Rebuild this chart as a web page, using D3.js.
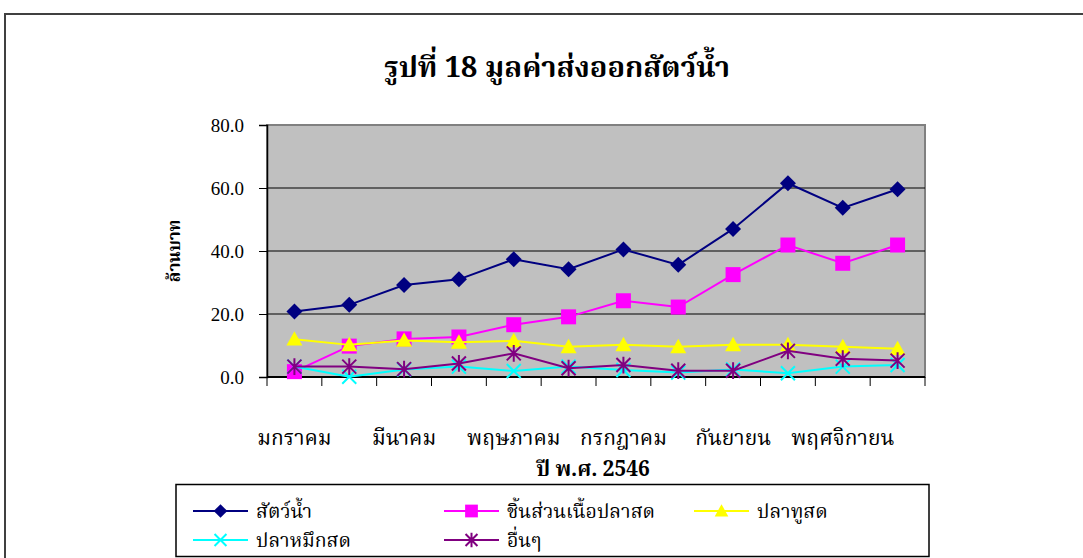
<!DOCTYPE html>
<html>
<head>
<meta charset="utf-8">
<script src="https://cdn.jsdelivr.net/npm/d3@7"></script>
<style>
  html, body { margin: 0; padding: 0; background: #fff; }
  svg { display: block; font-family: "Noto Serif Thai", "Liberation Serif", "Times New Roman", serif; }
</style>
</head>
<body>
<div id="chart"></div>
<script>
const months = ["มกราคม", "กุมภาพันธ์", "มีนาคม", "เมษายน", "พฤษภาคม", "มิถุนายน",
  "กรกฎาคม", "สิงหาคม", "กันยายน", "ตุลาคม", "พฤศจิกายน", "ธันวาคม"];
const yTicks = [0, 20, 40, 60, 80];

const seriesNames = ["สัตว์น้ำ", "ชิ้นส่วนเนื้อปลาสด", "ปลาทูสด", "ปลาหมึกสด", "อื่นๆ"];
const aquatic = [20.8, 22.9, 29.2, 31.0, 37.4, 34.2, 40.5, 35.6, 47.0, 61.5, 53.7, 59.6];
const fishParts = [1.7, 9.8, 12.1, 12.7, 16.6, 19.1, 24.2, 22.2, 32.5, 41.9, 36.1, 41.9];
const mackerel = [12.0, 10.2, 11.6, 11.0, 11.5, 9.6, 10.2, 9.6, 10.2, 10.2, 9.6, 9.0];
const squid = [3.3, 0.1, 2.4, 3.3, 1.9, 3.3, 2.2, 1.4, 2.4, 1.2, 3.3, 3.8];
const others = [3.3, 3.3, 2.5, 4.3, 7.5, 2.8, 3.8, 2.0, 2.0, 8.3, 5.8, 5.2];

const W = 1083, H = 558;
const plot = { left: 267, top: 125, right: 925, bottom: 377 };

const svg = d3.select("#chart").append("svg").attr("width", W).attr("height", H);

// outer frame
svg.append("path")
  .attr("d", `M5,${H + 2}V14H${W + 2}`)
  .attr("fill", "none").attr("stroke", "#404040").attr("stroke-width", 2);

svg.append("text")
  .attr("x", 557).attr("y", 77)
  .attr("text-anchor", "middle")
  .attr("font-size", 29).attr("font-weight", "bold")
  .text("รูปที่ 18 มูลค่าส่งออกสัตว์น้ำ");

const x = d3.scaleBand().domain(months).range([plot.left, plot.right]);
const y = d3.scaleLinear().domain([0, 80]).range([plot.bottom, plot.top]);
const cx = m => x(m) + x.bandwidth() / 2;

svg.append("rect")
  .attr("x", plot.left).attr("y", plot.top)
  .attr("width", plot.right - plot.left).attr("height", plot.bottom - plot.top)
  .attr("fill", "#c0c0c0").attr("stroke", "#808080").attr("stroke-width", 2);

svg.append("g").selectAll("line")
  .data(yTicks.filter(t => t > 0 && t < 80))
  .enter().append("line")
  .attr("x1", plot.left).attr("x2", plot.right)
  .attr("y1", d => y(d)).attr("y2", d => y(d))
  .attr("stroke", "#000").attr("stroke-width", 1);

const yAxis = svg.append("g")
  .attr("transform", `translate(${plot.left},0)`)
  .call(d3.axisLeft(y).tickValues(yTicks).tickFormat(d3.format(".1f")).tickSize(8).tickPadding(15));
yAxis.select(".domain").attr("stroke", "#000").attr("stroke-width", 1.5);
yAxis.selectAll("text").attr("font-size", 19).attr("fill", "#000")
  .attr("font-family", "Liberation Serif, serif");

// x axis: ticks at category boundaries, labels on every other month
const bounds = months.map(m => x(m)).concat([plot.right]);
const xAxis = svg.append("g");
xAxis.append("line")
  .attr("x1", plot.left).attr("x2", plot.right)
  .attr("y1", plot.bottom).attr("y2", plot.bottom)
  .attr("stroke", "#000").attr("stroke-width", 2);
xAxis.selectAll("line.tick")
  .data(bounds)
  .enter().append("line").attr("class", "tick")
  .attr("x1", d => d).attr("x2", d => d)
  .attr("y1", plot.bottom).attr("y2", plot.bottom + 9)
  .attr("stroke", "#000").attr("stroke-width", 1);
xAxis.selectAll("text")
  .data(months.filter((m, i) => i % 2 === 0))
  .enter().append("text")
  .attr("x", d => cx(d))
  .attr("y", 445)
  .attr("text-anchor", "middle")
  .attr("font-size", 21)
  .text(d => d);

svg.append("text")
  .attr("x", 593).attr("y", 476)
  .attr("text-anchor", "middle")
  .attr("font-size", 21).attr("font-weight", "bold")
  .text("ปี พ.ศ. 2546");

svg.append("text")
  .attr("transform", `translate(180,${(plot.top + plot.bottom) / 2}) rotate(-90)`)
  .attr("text-anchor", "middle")
  .attr("font-size", 17).attr("font-weight", "bold")
  .text("ล้านบาท");

const series = [
  { name: seriesNames[0], values: aquatic, color: "#000080", marker: "diamond" },
  { name: seriesNames[1], values: fishParts, color: "#ff00ff", marker: "square" },
  { name: seriesNames[2], values: mackerel, color: "#ffff00", marker: "triangle" },
  { name: seriesNames[3], values: squid, color: "#00ffff", marker: "x" },
  { name: seriesNames[4], values: others, color: "#800080", marker: "star" }
];

function drawMarker(g, type, color, s) {
  if (type === "diamond") {
    g.append("path").attr("d", `M0,${-s}L${s},0L0,${s}L${-s},0Z`).attr("fill", color);
  } else if (type === "square") {
    g.append("rect").attr("x", -s).attr("y", -s).attr("width", 2 * s).attr("height", 2 * s).attr("fill", color);
  } else if (type === "triangle") {
    g.append("path").attr("d", `M0,${-s}L${s},${s * 0.8}L${-s},${s * 0.8}Z`).attr("fill", color);
  } else if (type === "x") {
    g.append("path").attr("d", `M${-s},${-s}L${s},${s}M${-s},${s}L${s},${-s}`)
      .attr("stroke", color).attr("stroke-width", 2);
  } else {
    g.append("path").attr("d", `M${-s},${-s}L${s},${s}M${-s},${s}L${s},${-s}M0,${-s * 1.2}V${s * 1.2}`)
      .attr("stroke", color).attr("stroke-width", 2);
  }
}

const line = d3.line().x((d, i) => cx(months[i])).y(d => y(d));
const sizes = { diamond: 8, square: 7.5, triangle: 8, x: 7, star: 7 };

series.forEach(s => {
  svg.append("path").datum(s.values)
    .attr("d", line).attr("fill", "none")
    .attr("stroke", s.color).attr("stroke-width", 2);
  s.values.forEach((v, i) => {
    const g = svg.append("g")
      .attr("transform", `translate(${cx(months[i])},${y(v)})`);
    drawMarker(g, s.marker, s.color, sizes[s.marker]);
  });
});

// legend
svg.append("rect")
  .attr("x", 176).attr("y", 484.5).attr("width", 753).attr("height", 72)
  .attr("fill", "#fff").attr("stroke", "#000").attr("stroke-width", 1.5);

const legendPos = [
  { lx: 193, ty: 511 }, { lx: 444, ty: 511 }, { lx: 694, ty: 511 },
  { lx: 193, ty: 540 }, { lx: 444, ty: 540 }
];
series.forEach((s, i) => {
  const p = legendPos[i];
  const g = svg.append("g");
  g.append("line").attr("x1", p.lx).attr("x2", p.lx + 55)
    .attr("y1", p.ty).attr("y2", p.ty)
    .attr("stroke", s.color).attr("stroke-width", 2);
  const m = g.append("g").attr("transform", `translate(${p.lx + 27.5},${p.ty})`);
  drawMarker(m, s.marker, s.color, sizes[s.marker] * 0.85);
  g.append("text").attr("x", p.lx + 63).attr("y", p.ty + 7)
    .attr("font-size", 19.5).text(s.name);
});
</script>
</body>
</html>
